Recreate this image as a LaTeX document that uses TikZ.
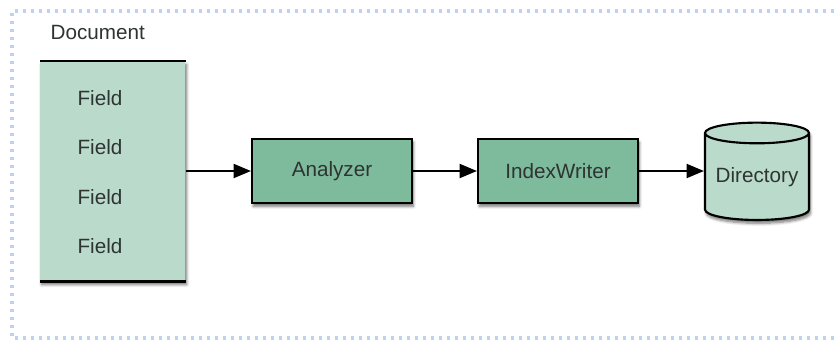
\documentclass[tikz,border=0pt]{standalone}
\usepackage{fontspec}
\setmainfont{Liberation Sans}
\usetikzlibrary{arrows.meta,shapes.geometric,shadows.blur}
\definecolor{paleteal}{RGB}{186,219,204}
\definecolor{midteal}{RGB}{126,186,156}
\definecolor{ink}{RGB}{45,52,50}
\definecolor{framedot}{RGB}{190,210,240}
\tikzset{
  label text/.style={font=\fontsize{15.5pt}{18pt}\selectfont, text=ink},
  softshadow/.style={blur shadow={shadow blur steps=6, shadow xshift=1pt, shadow yshift=-2.5pt, shadow opacity=55}},
  procbox/.style={draw=black, line width=1.6pt, fill=midteal, softshadow,
    minimum width=120pt, minimum height=48pt, inner sep=0pt, label text},
  flow/.style={line width=1.5pt, -{Triangle[length=13pt,width=10.5pt]}},
}
\begin{document}
\begin{tikzpicture}[x=0.75pt,y=-0.75pt]
  \useasboundingbox (0,0) rectangle (838,340);
  % dotted frame
  \draw[framedot, line width=2.4pt, dash pattern=on 2.4pt off 3.6pt]
    (850,11) -- (12,11) -- (12,338) -- (850,338);

  % document with its fields
  \node[label text, anchor=west] (doctitle) at (46,32) {Document};
  \node[fill=paleteal, softshadow, minimum width=108.75pt, minimum height=165pt,
        inner sep=0pt, anchor=north west] (doc) at (40,61) {};
  \draw[line width=1.8pt] (doc.north west) -- (doc.north east);
  \draw[line width=1.8pt] (doc.south west) -- (doc.south east);
  \node[label text] (f1) at (100,98) {Field};
  \node[label text] (f2) at (100,147) {Field};
  \node[label text] (f3) at (100,197) {Field};
  \node[label text] (f4) at (100,246) {Field};

  % processing chain
  \node[procbox] (ana) at (332,171) {Analyzer};
  \node[procbox] (iw) at (558,171) {IndexWriter};
  \node[cylinder, shape border rotate=90, aspect=0.25, draw=black, line width=1.6pt,
        fill=paleteal, softshadow, minimum width=78pt, minimum height=73pt,
        inner sep=0pt, label text] (dir) at (757,177) {Directory};

  \draw[flow] (doc.east |- ana.west) -- (ana.west);
  \draw[flow] (ana.east) -- (iw.west);
  \draw[flow] (iw.east) -- (iw.east -| dir.west);
\end{tikzpicture}
\end{document}
